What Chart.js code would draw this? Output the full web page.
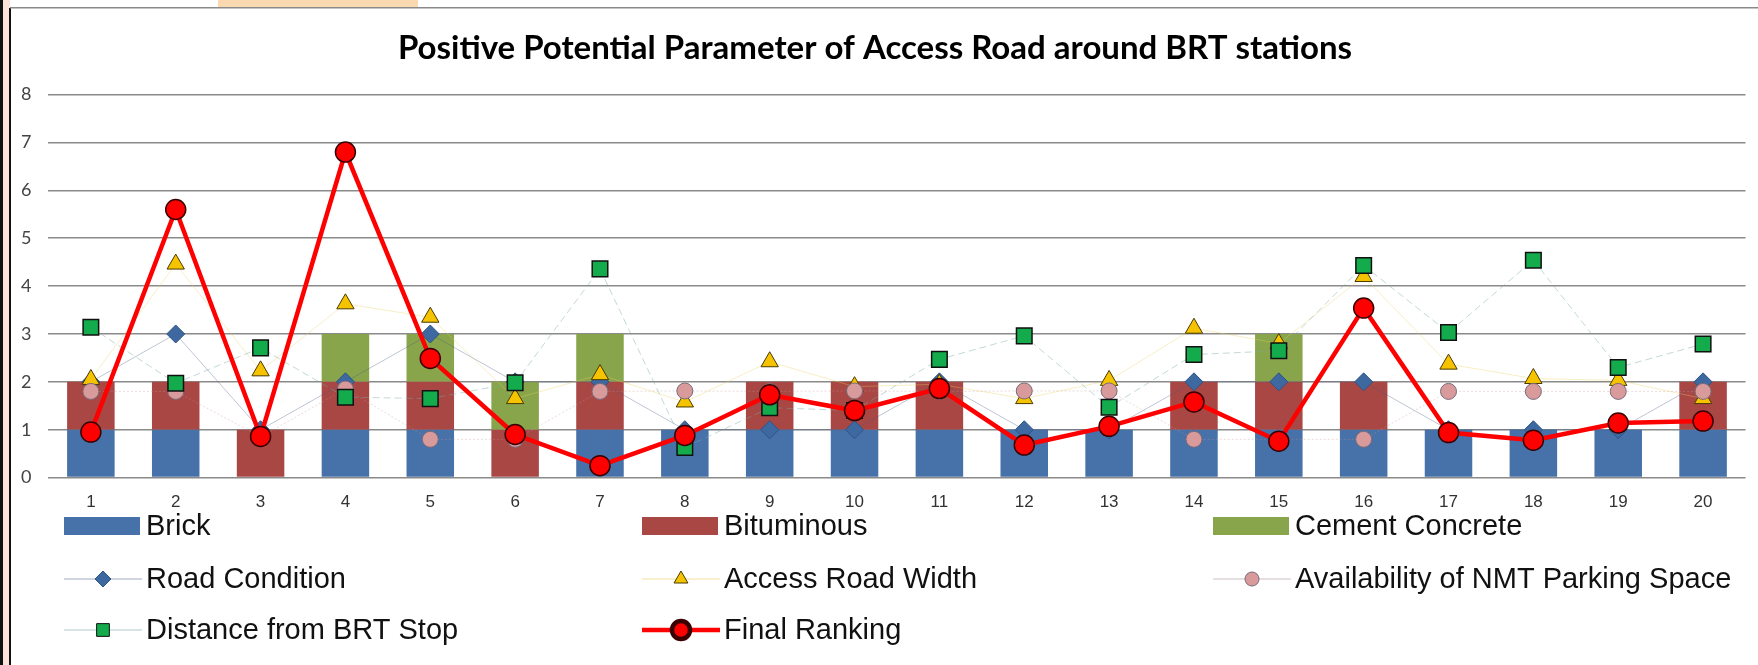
<!DOCTYPE html>
<html>
<head>
<meta charset="utf-8">
<script src="https://cdn.jsdelivr.net/npm/chart.js@4"></script>
<style>
  html, body { margin: 0; padding: 0; background: #fff; }
  #wrap { width: 1758px; height: 665px; position: relative; }
</style>
</head>
<body>
<div id="wrap"><canvas id="grafico_brt" width="1758" height="665"></canvas></div>
<script>
const categorias = ['1','2','3','4','5','6','7','8','9','10','11','12','13','14','15','16','17','18','19','20']
const brick = [1,1,0,1,1,0,1,1,1,1,1,1,1,1,1,1,1,1,1,1]
const bituminous = [1,1,1,1,1,1,1,0,1,1,1,0,0,1,1,1,0,0,0,1]
const cement = [0,0,0,1,1,1,1,0,0,0,0,0,0,0,1,0,0,0,0,0]
const road_condition = [2,3,1,2,3,2,2,1,1,1,2,1,1,2,2,2,1,1,1,2]
const road_width = [2.05,4.46,2.23,3.63,3.35,1.65,2.15,1.58,2.42,1.9,1.95,1.65,2.03,3.12,2.8,4.2,2.37,2.07,2.03,1.65]
const nmt_parking = [1.8,1.8,0.85,1.85,0.8,0.8,1.8,1.81,1.8,1.81,1.8,1.81,1.81,0.8,0.8,0.8,1.8,1.8,1.8,1.8]
const distance_brt = [3.14,1.97,2.71,1.68,1.65,1.98,4.36,0.63,1.46,1.4,2.47,2.96,1.47,2.57,2.65,4.43,3.03,4.54,2.3,2.79]
const final_ranking = [0.95,5.6,0.86,6.8,2.49,0.9,0.25,0.88,1.73,1.4,1.86,0.68,1.07,1.58,0.76,3.54,0.94,0.78,1.14,1.18]
const y_ticks = [0,1,2,3,4,5,6,7,8]

// moldura da imagem original (bordas e marca d'agua)
const moldura = {
    id: 'moldura',
    beforeDraw(chart) {
        const ctx = chart.ctx
        ctx.save()
        ctx.fillStyle = '#fff'
        ctx.fillRect(0, 0, chart.width, chart.height)
        ctx.fillStyle = '#fbd9b0'
        ctx.fillRect(218, 0, 200, 7)
        ctx.fillStyle = '#fbe3dc'
        ctx.fillRect(3, 0, 7, chart.height)
        ctx.fillStyle = '#111'
        ctx.fillRect(0, 0, 3, chart.height)
        ctx.fillRect(9, 8, 2, chart.height - 8)
        ctx.fillStyle = '#8a8a8a'
        ctx.fillRect(10, 7, chart.width - 10, 1.5)
        ctx.restore()
    }
}

// legenda em 3 colunas, como no grafico do Excel
const legenda = {
    id: 'legenda',
    afterDraw(chart) {
        const ctx = chart.ctx
        const colunas = [64, 642, 1213]
        const linhas = [526, 579, 630]
        ctx.save()
        ctx.font = '29px "Liberation Sans", Arial, sans-serif'
        ctx.textBaseline = 'middle'
        chart.data.datasets.forEach((ds, k) => {
            const x = colunas[k % 3]
            const y = linhas[Math.floor(k / 3)]
            if (ds.type === 'bar') {
                ctx.fillStyle = ds.backgroundColor
                ctx.fillRect(x, y - 9, 76, 18)
            } else {
                ctx.strokeStyle = ds.legendLine || ds.borderColor
                ctx.lineWidth = ds.borderWidth
                ctx.setLineDash([])
                ctx.beginPath()
                ctx.moveTo(x, y)
                ctx.lineTo(x + 78, y)
                ctx.stroke()
                ctx.fillStyle = ds.pointBackgroundColor
                ctx.strokeStyle = ds.pointBorderColor
                Chart.helpers.drawPoint(ctx, {
                    pointStyle: ds.pointStyle,
                    radius: ds.legendRadius,
                    rotation: 0,
                    borderWidth: ds.pointBorderWidth
                }, x + 39, y)
            }
            ctx.fillStyle = '#111'
            ctx.fillText(ds.label, x + 82, y + 1)
        })
        ctx.restore()
    }
}

const ctx_brt = document.getElementById('grafico_brt').getContext('2d')

let grafico_brt = new Chart(ctx_brt, {
    data: {
        labels: categorias,
        datasets: [
            { type: 'bar', label: 'Brick', data: brick, backgroundColor: '#4671a9', order: 10 },
            { type: 'bar', label: 'Bituminous', data: bituminous, backgroundColor: '#a94744', order: 10 },
            { type: 'bar', label: 'Cement Concrete', data: cement, backgroundColor: '#88a54c', order: 10 },
            {
                type: 'line', label: 'Road Condition', data: road_condition, order: 5, yAxisID: 'y2',
                borderColor: 'rgba(70,90,130,0.35)', legendLine: 'rgba(70,90,130,0.5)', borderWidth: 1,
                pointStyle: 'rectRot', pointRadius: 9, legendRadius: 8,
                pointBackgroundColor: '#3d68a0', pointBorderColor: '#2f5585', pointBorderWidth: 1
            },
            {
                type: 'line', label: 'Access Road Width', data: road_width, order: 4, yAxisID: 'y2',
                borderColor: 'rgba(235,205,90,0.35)', legendLine: 'rgba(235,205,90,0.6)', borderWidth: 1,
                pointStyle: 'triangle', pointRadius: 10, legendRadius: 8,
                pointBackgroundColor: '#f6c300', pointBorderColor: '#4a3a00', pointBorderWidth: 1
            },
            {
                type: 'line', label: 'Availability of NMT Parking Space', data: nmt_parking, order: 3, yAxisID: 'y2',
                borderColor: 'rgba(200,150,150,0.35)', legendLine: 'rgba(170,150,150,0.6)', borderWidth: 1,
                borderDash: [2, 2],
                pointStyle: 'circle', pointRadius: 8, legendRadius: 7,
                pointBackgroundColor: '#d89a9a', pointBorderColor: '#7a6a7a', pointBorderWidth: 1
            },
            {
                type: 'line', label: 'Distance from BRT Stop', data: distance_brt, order: 2, yAxisID: 'y2',
                borderColor: 'rgba(120,170,165,0.45)', legendLine: 'rgba(120,170,165,0.6)', borderWidth: 1,
                borderDash: [7, 4],
                pointStyle: 'rect', pointRadius: 11, legendRadius: 9,
                pointBackgroundColor: '#13ab4c', pointBorderColor: '#111', pointBorderWidth: 1.5
            },
            {
                type: 'line', label: 'Final Ranking', data: final_ranking, order: 1, yAxisID: 'y2',
                borderColor: '#ff0000', borderWidth: 4.5,
                pointStyle: 'circle', pointRadius: 10, legendRadius: 9,
                pointBackgroundColor: '#ff0000', pointBorderColor: '#3a0000', pointBorderWidth: 1.5
            }
        ]
    },
    options: {
        responsive: false,
        animation: false,
        layout: { padding: { left: 4, right: 12, top: 0, bottom: 137 } },
        datasets: {
            bar: { categoryPercentage: 1, barPercentage: 0.56 },
            line: { tension: 0, fill: false }
        },
        plugins: {
            legend: { display: false },
            tooltip: { enabled: false },
            title: {
                display: true,
                text: 'Positive Potential Parameter of Access Road around BRT stations',
                color: '#000',
                font: { family: 'Lato', size: 33, weight: 'bold' },
                padding: { top: 29, bottom: 26 }
            }
        },
        scales: {
            x: {
                stacked: true,
                grid: { display: false, drawTicks: false },
                border: { display: false },
                ticks: {
                    color: '#333',
                    padding: 15,
                    font: { family: '"Liberation Sans Narrow", "Liberation Sans", sans-serif', size: 17 }
                }
            },
            y: {
                stacked: true,
                min: 0,
                max: 8,
                afterBuildTicks: (axis) => { axis.ticks = y_ticks.map(v => ({ value: v })) },
                grid: { color: '#8a8a8a', lineWidth: 1.5, drawTicks: false },
                border: { display: false },
                ticks: {
                    color: '#444',
                    padding: 17,
                    font: { family: 'Lato', size: 18 }
                }
            },
            y2: {
                display: false,
                stacked: false,
                min: 0,
                max: 8
            }
        }
    },
    plugins: [moldura, legenda]
});
</script>
</body>
</html>
